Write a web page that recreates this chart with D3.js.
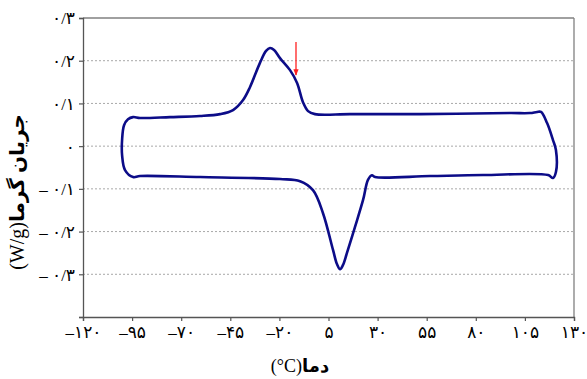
<!DOCTYPE html>
<html><head><meta charset="utf-8">
<script src="https://cdn.jsdelivr.net/npm/d3@7"></script>
<style>body{margin:0;background:#fff}svg{display:block}</style>
</head><body>
<svg id="c" width="587" height="379"></svg>
<script>
// DSC loop, temperature (°C) and heat flow (W/g), traced in drawing order
const temps = [-94.5,-91.0,-75.7,-60.4,-50.2,-43.6,-38.5,-35.0,-29.9,-26.8,-24.8,-22.7,-19.7,-14.6,-11.0,-8.0,-5.4,-1.9,15.9,51.6,97.4,107.6,111.2,113.2,116.3,119.3,120.8,120.8,119.3,116.8,83.7,56.7,28.7,27.1,25.1,22.6,18.5,14.4,12.4,10.9,9.3,7.3,2.2,-2.9,-9.5,-19.7,-60.4,-91.0,-94.5,-98.6,-100.1,-100.1,-99.1,-97.1];
const flows = [0.068,0.066,0.068,0.0705,0.075,0.0845,0.108,0.138,0.195,0.223,0.2297,0.225,0.206,0.178,0.148,0.103,0.082,0.075,0.075,0.075,0.0775,0.0775,0.080,0.080,0.054,0.0143,-0.009,-0.0607,-0.0747,-0.0677,-0.0677,-0.070,-0.0724,-0.068,-0.079,-0.126,-0.189,-0.250,-0.278,-0.288,-0.276,-0.243,-0.157,-0.103,-0.082,-0.077,-0.0724,-0.070,-0.0724,-0.056,-0.021,0.0143,0.049,0.063];
const xTicks = [-120,-95,-70,-45,-20,5,30,55,80,105,130];
const xTickLabels = ["–۱۲۰","–۹۵","–۷۰","–۴۵","–۲۰","۵","۳۰","۵۵","۸۰","۱۰۵","۱۳۰"];
const yTicks = [0.3,0.2,0.1,0,-0.1,-0.2,-0.3,-0.4];
const yTickLabels = ["۰/۳","۰/۲","۰/۱","۰","– ۰/۱","– ۰/۲","– ۰/۳",""];
const gridValues = [0.2,0.1,0,-0.1,-0.2,-0.3];
const arrowT = [-11.55,-11.55];
const arrowV = [0.244,0.1665];
const xTitleFa = "دما";
const xTitleUnit = "(\u200E°C)";
const yTitleFa = "جریان گرما";
const yTitleUnit = "(W/g)";

const W=587,H=379,m={l:83,r:13,t:18,b:62};
const svg=d3.select("#c");
const x=d3.scaleLinear().domain([-120,130]).range([m.l,W-m.r]);
const y=d3.scaleLinear().domain([-0.4,0.3]).range([H-m.b,m.t]);
const font="'Liberation Serif','DejaVu Sans',serif";

// grid
svg.append("g").selectAll("line").data(gridValues).join("line")
  .attr("x1",x(-120)).attr("x2",x(130)).attr("y1",d=>y(d)).attr("y2",d=>y(d))
  .attr("stroke","#a8a8a8").attr("stroke-width",1).attr("stroke-dasharray","2,2");

// frame top/right
svg.append("line").attr("x1",x(-120)).attr("x2",x(130)).attr("y1",y(0.3)).attr("y2",y(0.3)).attr("stroke","#808080").attr("stroke-width",1.3);
svg.append("line").attr("x1",x(130)).attr("x2",x(130)).attr("y1",y(0.3)).attr("y2",y(-0.4)).attr("stroke","#808080").attr("stroke-width",1.3);

// axes
const xa=svg.append("g").attr("transform",`translate(0,${y(-0.4)})`)
  .call(d3.axisBottom(x).tickValues(xTicks).tickFormat((d,i)=>xTickLabels[i]).tickSize(4).tickPadding(4));
const ya=svg.append("g").attr("transform",`translate(${x(-120)},0)`)
  .call(d3.axisLeft(y).tickValues(yTicks).tickFormat((d,i)=>yTickLabels[i]).tickSize(4).tickPadding(4));
[xa,ya].forEach(a=>{
  a.select(".domain").attr("stroke","#555").attr("stroke-width",1.3);
  a.selectAll(".tick line").attr("stroke","#555").attr("stroke-width",1.2);
  a.selectAll("text").attr("font-family",font).attr("font-size",17).attr("fill","#000");
});
ya.selectAll("text").attr("dy","0.35em");
xa.selectAll("text").attr("dy","0.75em");

// curve
const pts=temps.map((t,i)=>[t,flows[i]]);
svg.append("path").datum(pts)
  .attr("d",d3.line().x(d=>x(d[0])).y(d=>y(d[1])).curve(d3.curveCatmullRomClosed.alpha(0.5)))
  .attr("fill","none").attr("stroke","#0c0c88").attr("stroke-width",2.6).attr("stroke-linejoin","round");

// red arrow
svg.append("defs").append("marker").attr("id","ah").attr("viewBox","0 0 10 10").attr("refX",9).attr("refY",5)
  .attr("markerWidth",5).attr("markerHeight",5).attr("orient","auto")
  .append("path").attr("d","M0,1 L10,5 L0,9 Z").attr("fill","#ff2020");
svg.append("line").attr("x1",x(arrowT[0])).attr("y1",y(arrowV[0])).attr("x2",x(arrowT[1])).attr("y2",y(arrowV[1]))
  .attr("stroke","#ff2020").attr("stroke-width",1.3).attr("marker-end","url(#ah)");

// titles
const xt=svg.append("text").attr("x",300).attr("y",372).attr("text-anchor","middle").attr("direction","rtl")
  .attr("font-family",font).attr("font-size",18);
xt.append("tspan").attr("font-weight","bold").text(xTitleFa);
xt.append("tspan").text(xTitleUnit);
const yt=svg.append("text").attr("transform","translate(24,192) rotate(-90)").attr("text-anchor","middle").attr("direction","rtl")
  .attr("font-family",font).attr("font-size",20);
yt.append("tspan").attr("font-weight","bold").text(yTitleFa);
yt.append("tspan").text(yTitleUnit);
</script>
</body></html>
